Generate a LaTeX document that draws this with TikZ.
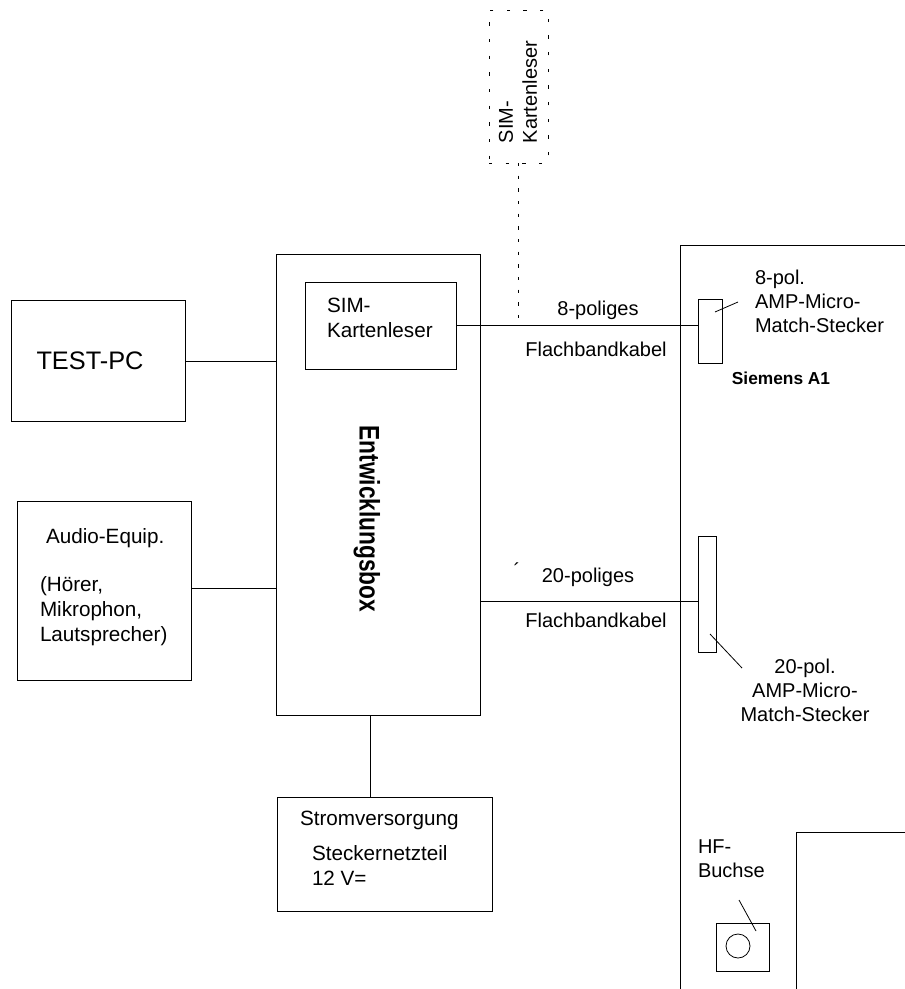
\documentclass[tikz,border=0pt]{standalone}
\usepackage{fontspec}
\setmainfont{Liberation Sans}
\usetikzlibrary{positioning}

\newcommand{\lblfont}{\fontsize{15}{18}\selectfont}
\newcommand{\boxfont}{\fontsize{15.5}{18.5}\selectfont}

\begin{document}
\begin{tikzpicture}[x=0.75pt,y=-0.75pt,line width=0.6pt,
    every node/.style={inner sep=0,outer sep=0},
    sz/.style 2 args={minimum width=#1*0.75pt,minimum height=#2*0.75pt},
    box/.style={draw,rectangle},
    lbl/.style={font=\lblfont,align=left}]
  \useasboundingbox (0,0) rectangle (905,989);

  %% SIM reader outside (dotted)
  \node[draw,dash pattern=on 2.5pt off 10pt,sz={59}{153}] (simbox) at (518.5,86.5) {};
  \node[font=\fontsize{15}{18}\selectfont,align=left,rotate=90] (simtxt) at (518,92) {SIM-\\Kartenleser};

  %% Entwicklungsbox with SIM reader
  \node[box,sz={204}{461}] (ebox) at (378,484.5) {};
  \node[font=\bfseries\fontsize{17}{20}\selectfont,rotate=-90,yscale=1.25] (etxt) at (367,519) {Entwicklungsbox};
  \node[box,sz={151}{87}] (simrd) at (380.5,325.5) {};
  \node[font=\boxfont,align=left,anchor=north west] (simrdtxt) at (327,298) {SIM-\\Kartenleser};

  %% Left side boxes
  \node[box,sz={174}{121}] (testpc) at (98,361) {};
  \node[font=\fontsize{19}{22}\selectfont] (pctxt) at (90,361) {TEST-PC};
  \node[box,sz={174}{179}] (audio) at (104,590.5) {};
  \node[font=\boxfont,anchor=north west] (audtxt) at (46,529) {Audio-Equip.};
  \node[font=\boxfont,align=left,anchor=north west] (audtxt2) at (40,577) {(Hörer,\\Mikrophon,\\Lautsprecher)};

  %% Power supply
  \node[box,sz={215}{114}] (strom) at (384.5,854) {};
  \node[font=\boxfont,anchor=north west] (stromtxt) at (300,811) {Stromversorgung};
  \node[font=\boxfont,align=left,anchor=north west] (stromtxt2) at (312,846) {Steckernetzteil\\12 V=};

  %% Siemens A1
  \coordinate (sa) at (905,245);
  \coordinate (sb) at (680,245);
  \coordinate (sc) at (680,989);
  \draw (sa) -- (sb) -- (sc);
  \node[font=\bfseries\fontsize{13}{16}\selectfont] (siem) at (781,378) {Siemens A1};
  \node[box,sz={24}{64}] (conn8) at (710,331) {};
  \node[box,sz={18}{116}] (conn20) at (707,594) {};
  \coordinate (fa) at (796,989);
  \coordinate (fb) at (796,832);
  \coordinate (fc) at (905,832);
  \draw (fa) -- (fb) -- (fc);
  \node[box,sz={53}{48}] (hfbox) at (742.5,947) {};
  \node[draw,circle,minimum size=24*0.75pt] (hfring) at (738,946) {};

  %% Connector labels
  \node[lbl,anchor=north west] (l8) at (755,270) {8-pol.\\AMP-Micro-\\Match-Stecker};
  \node[lbl,align=center,anchor=north] (l20) at (805,659) {20-pol.\\AMP-Micro-\\Match-Stecker};
  \node[lbl,anchor=north west] (lhf) at (698,840) {HF-\\Buchse};
  \coordinate (p8a) at (715,312);
  \coordinate (p8b) at (738,302);
  \coordinate (p20a) at (710,634);
  \coordinate (p20b) at (742,668);
  \coordinate (phfa) at (739,900);
  \coordinate (phfb) at (756,931);
  \draw (p8a) -- (p8b);
  \draw (p20a) -- (p20b);
  \draw (phfa) -- (phfb);

  %% Cables
  \node[lbl] (k8a) at (598,310) {8-poliges};
  \node[lbl] (k8b) at (596,349) {Flachbandkabel};
  \node[lbl] (k20a) at (588,577) {20-poliges};
  \node[lbl] (k20b) at (596,620) {Flachbandkabel};
  \node[font=\lblfont] (tick) at (517,570) {´};

  \coordinate (aud) at (0,588);
  \coordinate (c20) at (0,601);
  \coordinate (pw) at (370,0);
  \draw (testpc.east) -- (testpc.east -| ebox.west);
  \draw (audio.east |- aud) -- (ebox.west |- aud);
  \draw (simrd.east) -- (conn8.west |- simrd.east);
  \draw (ebox.east |- c20) -- (conn20.west |- c20);
  \draw (ebox.south -| pw) -- (strom.north -| pw);
  \draw[dash pattern=on 2.5pt off 7pt] (simbox.south) -- (simbox.south |- simrd.east);
\end{tikzpicture}
\end{document}
